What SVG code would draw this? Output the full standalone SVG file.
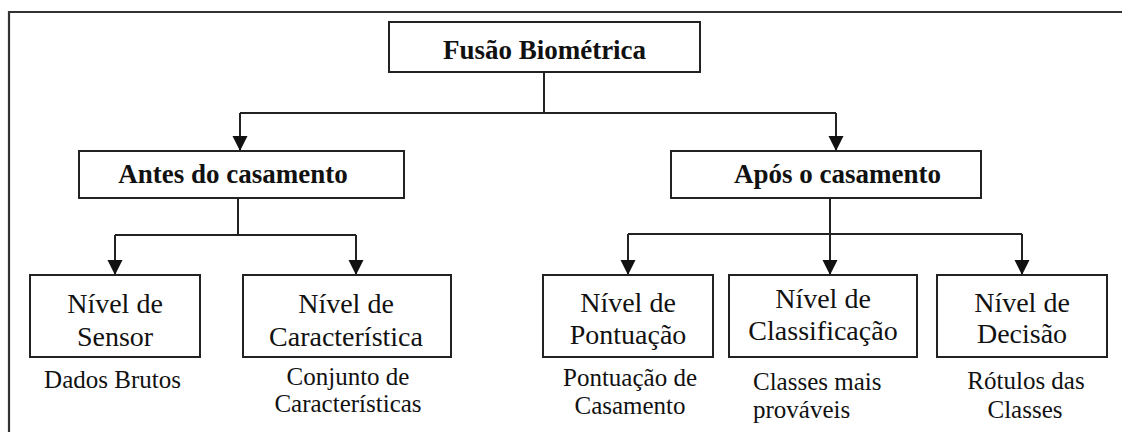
<svg xmlns="http://www.w3.org/2000/svg" width="1122" height="432" viewBox="0 0 1122 432">
<style>
.box{fill:#fff;stroke:#222;stroke-width:2}
.frame{fill:none;stroke:#333;stroke-width:2.2}
.conn{fill:none;stroke:#222;stroke-width:2}
text{font-family:'Liberation Serif','Times New Roman',serif;fill:#111;text-anchor:middle}
.h{font-weight:bold;font-size:27px}
.n{font-size:28px}
.s{font-size:25px}
.l{text-anchor:start}
</style>
<defs>
<marker id="arr" markerUnits="userSpaceOnUse" markerWidth="16" markerHeight="16" refX="15" refY="7.5" orient="auto">
<path d="M0,0 L15,7.5 L0,15 z" fill="#111"/>
</marker>
</defs>
<rect width="1122" height="432" fill="#fff"/>
<path class="frame" d="M9,432 V12 H1122"/>
<g id="connectors">
<path class="conn" d="M544,72 V113 M240,113 H836"/>
<path class="conn" d="M240,113 V151" marker-end="url(#arr)"/>
<path class="conn" d="M836,113 V151" marker-end="url(#arr)"/>
<path class="conn" d="M238,198 V235 M115,235 H356"/>
<path class="conn" d="M115,235 V275" marker-end="url(#arr)"/>
<path class="conn" d="M356,235 V275" marker-end="url(#arr)"/>
<path class="conn" d="M830,198 V234 M628,234 H1022"/>
<path class="conn" d="M628,234 V275" marker-end="url(#arr)"/>
<path class="conn" d="M830,234 V275" marker-end="url(#arr)"/>
<path class="conn" d="M1022,234 V275" marker-end="url(#arr)"/>
</g>
<g id="fusao">
<rect class="box" x="389" y="22" width="311" height="50"/>
<text class="h" x="544.5" y="59">Fusão Biométrica</text>
</g>
<g id="antes">
<rect class="box" x="79" y="151" width="325" height="47"/>
<text class="h" x="233" y="183">Antes do casamento</text>
</g>
<g id="apos">
<rect class="box" x="671" y="151" width="310" height="47"/>
<text class="h" x="837.5" y="183">Após o casamento</text>
</g>
<g id="sensor">
<rect class="box" x="30" y="275" width="170" height="82"/>
<text class="n" x="115" y="313">Nível de</text>
<text class="n" x="115" y="346">Sensor</text>
<text class="s" x="112.5" y="388">Dados Brutos</text>
</g>
<g id="caracteristica">
<rect class="box" x="243" y="275" width="208" height="82"/>
<text class="n" x="346" y="313">Nível de</text>
<text class="n" x="346" y="346">Característica</text>
<text class="s" x="348" y="385">Conjunto de</text>
<text class="s" x="348" y="412">Características</text>
</g>
<g id="pontuacao">
<rect class="box" x="543" y="275" width="170" height="82"/>
<text class="n" x="628" y="312">Nível de</text>
<text class="n" x="628" y="344">Pontuação</text>
<text class="s" x="630" y="386">Pontuação de</text>
<text class="s" x="630" y="414">Casamento</text>
</g>
<g id="classificacao">
<rect class="box" x="729" y="275" width="188" height="82"/>
<text class="n" x="823" y="308">Nível de</text>
<text class="n" x="823" y="340">Classificação</text>
<text class="s l" x="753" y="390">Classes mais</text>
<text class="s l" x="753" y="418">prováveis</text>
</g>
<g id="decisao">
<rect class="box" x="937" y="275" width="170" height="82"/>
<text class="n" x="1022" y="312">Nível de</text>
<text class="n" x="1022" y="343">Decisão</text>
<text class="s" x="1026" y="389">Rótulos das</text>
<text class="s" x="1025" y="418">Classes</text>
</g>
</svg>
